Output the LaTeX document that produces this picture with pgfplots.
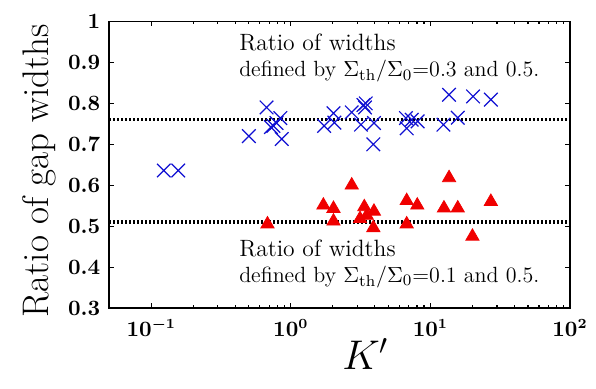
\documentclass[border=0pt]{standalone}
\usepackage{pgfplots}
\pgfplotsset{compat=1.18}

\definecolor{crossblue}{RGB}{15,15,210}
\definecolor{trired}{RGB}{240,0,0}

\begin{document}
\begin{tikzpicture}
\begin{axis}[
    scale only axis,
    width=230.4pt, height=143.3pt,
    xmode=log,
    xmin=0.05, xmax=100,
    ymin=0.3, ymax=1,
    ytick={0.3,0.4,0.5,0.6,0.7,0.8,0.9,1},
    xtick={0.1,1,10,100},
    tick align=inside,
    major tick length=2.5pt,
    minor tick length=1.5pt,
    axis line style={line width=0.8pt},
    every tick/.style={black, line width=0.6pt},
    tick label style={font=\fontsize{10.5}{12}\selectfont\boldmath},
    xticklabel style={yshift=-2pt},
    yticklabel style={xshift=-1pt},
    xlabel={$K'$},
    ylabel={Ratio of gap widths},
    xlabel style={font=\fontsize{22}{26}\selectfont, yshift=6pt, xshift=13pt},
    ylabel style={font=\fontsize{18.5}{22}\selectfont, yshift=-1pt, xshift=-3pt},
]

% mean levels
\addplot[black, line width=1.6pt, dash pattern=on 1.1pt off 0.9pt] coordinates {(0.05,0.76) (100,0.76)};
\addplot[black, line width=1.6pt, dash pattern=on 1.1pt off 0.9pt] coordinates {(0.05,0.51) (100,0.51)};

% Sigma_th/Sigma_0 = 0.3 and 0.5
\addplot[only marks, mark=x, mark size=4.8pt, crossblue, line width=0.6pt] coordinates {
    (0.123,0.636) (0.156,0.636) (0.50,0.72) (0.67,0.79) (0.72,0.742)
    (0.75,0.745) (0.79,0.752) (0.84,0.764) (0.86,0.713)
    (1.73,0.745) (2.02,0.776) (2.05,0.753) (2.73,0.778) (3.18,0.748)
    (3.31,0.796) (3.40,0.79) (3.44,0.80) (3.94,0.752) (3.90,0.70)
    (6.68,0.764) (6.76,0.739) (7.34,0.76) (8.1,0.756)
    (12.4,0.748) (13.6,0.821) (15.7,0.765) (20.2,0.817) (27.1,0.809)
};

% Sigma_th/Sigma_0 = 0.1 and 0.5
\addplot[only marks, mark=triangle*, mark size=3.8pt, trired, mark options={draw=trired, fill=trired}] coordinates {
    (0.68,0.505) (1.71,0.551) (2.02,0.543) (2.02,0.512) (2.73,0.60)
    (3.36,0.547) (3.13,0.518) (3.5,0.526) (3.94,0.536) (3.9,0.496)
    (6.76,0.562) (6.76,0.505) (8.05,0.551) (12.5,0.544) (13.6,0.618)
    (15.7,0.544) (20.0,0.475) (27.1,0.56)
};

\node[anchor=base west, font=\fontsize{11.8}{13}\selectfont, inner sep=0pt] at (axis cs:0.424,0.9295) {Ratio of widths};
\node[anchor=base west, font=\fontsize{11}{13}\selectfont, inner sep=0pt] at (axis cs:0.424,0.865) {defined by $\Sigma_{\mathrm{th}}/\Sigma_0$=0.3 and 0.5.};
\node[anchor=base west, font=\fontsize{11.8}{13}\selectfont, inner sep=0pt] at (axis cs:0.424,0.427) {Ratio of widths};
\node[anchor=base west, font=\fontsize{11}{13}\selectfont, inner sep=0pt] at (axis cs:0.424,0.362) {defined by $\Sigma_{\mathrm{th}}/\Sigma_0$=0.1 and 0.5.};
\end{axis}
\pgfresetboundingbox
\path[use as bounding box] ([shift={(-54.65pt,-40pt)}]current axis.south west) rectangle ([shift={(13pt,10.75pt)}]current axis.north east);
\end{tikzpicture}
\end{document}
